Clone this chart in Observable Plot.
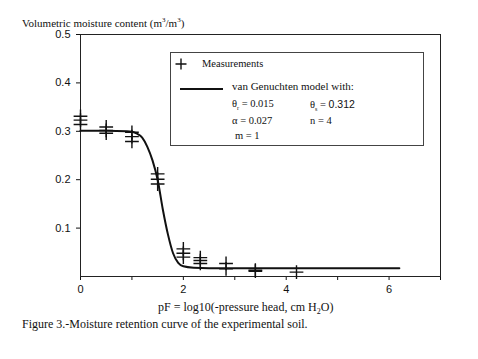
<!DOCTYPE html>
<html>
<head>
<meta charset="utf-8">
<script src="https://cdn.jsdelivr.net/npm/d3@7"></script>
<script src="https://cdn.jsdelivr.net/npm/@observablehq/plot@0.6"></script>
<style>
  body { margin: 0; background: #fff; }
  #wrap { position: relative; width: 478px; height: 359px; font-family: "Liberation Serif", "Times New Roman", serif; color: #111; }
  #chart { position: absolute; left: 0; top: 0; }
  .txt { position: absolute; white-space: nowrap; }
  #legend { position: absolute; left: 170px; top: 52px; width: 254px; height: 94px; border: 1px solid #444; box-sizing: border-box; background: #fff; font-size: 10.5px; }
  #legend .it { position: absolute; white-space: nowrap; }
</style>
</head>
<body>
<div id="wrap">
  <div id="chart"></div>
  <div class="txt" style="left:22px; top:16px; font-size:11px;">Volumetric moisture content (m<sup style="font-size:7px">3</sup>/m<sup style="font-size:7px">3</sup>)</div>
  <div class="txt" style="left:158px; top:300px; font-size:12px;">pF = log10(-pressure head, cm H<sub style="font-size:8px">2</sub>O)</div>
  <div class="txt" style="left:22px; top:317px; font-size:12px;">Figure 3.-Moisture retention curve of the experimental soil.</div>
  <div id="legend">
    <svg class="it" style="left:2px; top:2px;" width="60" height="40">
      <path d="M8,3.5 V14.5 M2.5,9 H13.5" stroke="#111" stroke-width="1.4" fill="none"/>
      <path d="M7,34 H50" stroke="#111" stroke-width="2" fill="none"/>
    </svg>
    <div class="it" style="left:31px; top:5px;">Measurements</div>
    <div class="it" style="left:61px; top:27px; font-size:11px;">van Genuchten model with:</div>
    <div class="it" style="left:61px; top:45px;">θ<sub style="font-size:6px">r</sub> = 0.015</div>
    <div class="it" style="left:139px; top:45px;">θ<sub style="font-size:6px">s</sub> = <span style="font-family:'Liberation Sans',Arial,sans-serif">0.312</span></div>
    <div class="it" style="left:61px; top:62px;">α = 0.027</div>
    <div class="it" style="left:139px; top:62px;">n = 4</div>
    <div class="it" style="left:64px; top:77px;">m = 1</div>
  </div>
</div>
<script>
// Measured points (pF, volumetric moisture content)
const pfMeas    = [0, 0, 0, 0.5, 0.5, 0.5, 1.0, 1.0, 1.0, 1.5, 1.5, 1.5, 2.0, 2.0, 2.0, 2.33, 2.33, 2.33, 2.83, 2.83, 3.4, 3.4, 4.2];
const thetaMeas = [0.331, 0.323, 0.314, 0.309, 0.302, 0.296, 0.298, 0.289, 0.279, 0.212, 0.201, 0.191, 0.057, 0.048, 0.040, 0.039, 0.033, 0.027, 0.027, 0.016, 0.013, 0.011, 0.009];

// van Genuchten model curve
const pfModel    = [0, 0.5, 0.9, 1.0, 1.1, 1.2, 1.3, 1.4, 1.5, 1.6, 1.7, 1.8, 1.9, 2.0, 2.2, 2.5, 3.0, 4.0, 5.0, 6.2];
const thetaModel = [0.301, 0.301, 0.300, 0.299, 0.295, 0.287, 0.268, 0.240, 0.200, 0.139, 0.087, 0.048, 0.028, 0.021, 0.018, 0.017, 0.017, 0.017, 0.017, 0.017];

// Axis ticks
const xTicks = [0, 1, 2, 3, 4, 5, 6, 7];
const xTickLabels = ["0", "", "2", "", "4", "", "6", ""];
const yTicks = [0.1, 0.2, 0.3, 0.4, 0.5];
const yTickLabels = ["0.1", "0.2", "0.3", "0.4", "0.5"];

const meas = pfMeas.map((p, i) => ({pf: p, theta: thetaMeas[i]}));
const model = pfModel.map((p, i) => ({pf: p, theta: thetaModel[i]}));

const chart = Plot.plot({
  width: 478,
  height: 359,
  marginLeft: 80,
  marginRight: 38,
  marginTop: 34,
  marginBottom: 83,
  style: {fontFamily: "'Liberation Sans', Arial, sans-serif", fontSize: "11px", color: "#111", background: "transparent"},
  x: {domain: [0, 7], ticks: xTicks, tickFormat: d => xTickLabels[xTicks.indexOf(d)], tickSize: 4, tickPadding: 5, label: null},
  y: {domain: [0, 0.5], ticks: yTicks, tickFormat: d => yTickLabels[yTicks.indexOf(d)], tickSize: 4, tickPadding: 6, label: null},
  marks: [
    Plot.frame({stroke: "#222", strokeWidth: 1}),
    Plot.line(model, {x: "pf", y: "theta", curve: "monotone-x", stroke: "#111", strokeWidth: 2}),
    Plot.dot(meas, {x: "pf", y: "theta", symbol: "plus", r: 4.5, stroke: "#111", strokeWidth: 1.4})
  ]
});
document.getElementById("chart").appendChild(chart);
</script>
</body>
</html>
